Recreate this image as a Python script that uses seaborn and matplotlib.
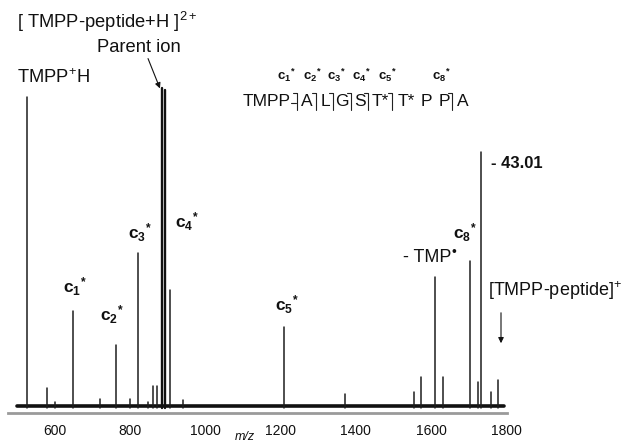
import numpy as np
import pandas as pd
import matplotlib
matplotlib.use("Agg")
import matplotlib.pyplot as plt
from matplotlib.lines import Line2D
import seaborn as sns

# ---- data ----
peak_mz = [525, 579, 600, 648, 719, 762, 799, 820, 847, 860, 871, 905,
           940, 1208, 1372, 1556, 1572, 1611, 1631, 1704, 1726, 1734,
           1760, 1777]
peak_int = [97.2, 6.3, 1.9, 30.3, 2.8, 19.7, 2.8, 48.4, 1.9, 6.9, 6.9,
            36.9, 2.5, 25.3, 4.4, 5.0, 9.7, 40.9, 9.7, 45.9, 8.1, 80.0,
            5.0, 8.8]
parent_mz = [884, 892]
parent_int = [100.0, 99.5]
baseline_mz = [500, 1795]
baseline_int = [0.6, 0.6]
tick_values = [600, 800, 1000, 1200, 1400, 1600, 1800]
tick_labels = ["600", "800", "1000", "1200", "1400", "1600", "1800"]

sns.set_theme(style="white")
plt.rcParams["font.family"] = ["Liberation Sans", "DejaVu Sans"]
plt.rcParams["mathtext.fontset"] = "custom"
plt.rcParams["mathtext.rm"] = "Liberation Sans"
plt.rcParams["mathtext.bf"] = "Liberation Sans:bold"
plt.rcParams["mathtext.it"] = "Liberation Sans:italic"

W, H = 630, 445
fig = plt.figure(figsize=(W / 100, H / 100), dpi=100)
ax = fig.add_axes([8 / W, (H - 413) / H, (507 - 8) / W, (413 - 20) / H])


def stick_table(mzs, ints):
    rows = []
    for i, (m, v) in enumerate(zip(mzs, ints)):
        rows.append({"mz": m, "intensity": 0.0, "peak": i})
        rows.append({"mz": m, "intensity": v, "peak": i})
    return pd.DataFrame(rows)


sticks = stick_table(peak_mz, peak_int)
parents = stick_table(parent_mz, parent_int)
base = pd.DataFrame({"mz": baseline_mz, "intensity": baseline_int})

sns.lineplot(data=base, x="mz", y="intensity", color="#111111",
             linewidth=2.6, ax=ax)
sns.lineplot(data=sticks, x="mz", y="intensity", units="peak",
             estimator=None, sort=False, color="#1e1e1e", linewidth=1.1,
             ax=ax)
sns.lineplot(data=parents, x="mz", y="intensity", units="peak",
             estimator=None, sort=False, color="#111111", linewidth=1.7,
             ax=ax)

ax.set_xlim(475, 1802)
ax.set_ylim(-1.56, 121.25)
ax.set_xticks(tick_values)
ax.set_xticklabels(tick_labels)
ax.set_yticks([])
ax.set_xlabel("")
ax.set_ylabel("")
for s in ["top", "right", "left"]:
    ax.spines[s].set_visible(False)
ax.spines["bottom"].set_color("#9a9a9a")
ax.spines["bottom"].set_linewidth(2)
ax.tick_params(axis="x", direction="out", length=3, width=1,
               color="#777777", labelsize=10, pad=5, labelcolor="#111111")


def P(x, y):
    return (x / W, 1 - y / H)


def txt(x, y, s, size, weight="normal", ha="left", style="normal"):
    fig.text(*P(x, y), s, fontsize=size, fontweight=weight, ha=ha,
             va="center", color="#111111", style=style)


# axis label
txt(245, 437, "m/z", 9, ha="center", style="italic")

# top-left annotations
txt(17, 22, r"[ TMPP-peptide+H ]$^{2+}$", 13.2)
txt(97, 47, "Parent ion", 13.2)
txt(17, 78, r"TMPP$^{+}$H", 13.2)
ax.annotate("", xy=P(161, 91), xytext=P(147, 56),
            xycoords="figure fraction", textcoords="figure fraction",
            arrowprops=dict(arrowstyle="-|>", lw=0.8, color="#111111",
                            mutation_scale=8))

# fragment labels on peaks
frag = [(63, 287, "1"), (100, 315, "2"), (128, 233, "3"), (175, 222, "4"),
        (275, 305, "5"), (453, 233, "8")]
for x, y, n in frag:
    txt(x, y, r"$\mathbf{c_{%s}}^{\mathbf{*}}$" % n, 12.5)

txt(403, 257, "- TMP", 13)
txt(452, 252, "\u2022", 10)
txt(491, 163, "- 43.01", 12, weight="bold")
txt(488, 291, r"[TMPP-peptide]$^{+}$", 13)
ax.annotate("", xy=P(501, 346), xytext=P(501, 310),
            xycoords="figure fraction", textcoords="figure fraction",
            arrowprops=dict(arrowstyle="-|>", lw=0.8, color="#111111",
                            mutation_scale=8))

# peptide sequence with cleavage marks
seq = [(267, "TMPP"), (307, "A"), (325, "L"), (342, "G"), (360, "S"),
       (380, "T*"), (406, "T*"), (426, "P"), (444, "P"), (463, "A")]
for x, s in seq:
    txt(x, 102, s, 12.5, ha="center")
marks = [297, 316, 333, 351, 368, 392, 452]
for mx in marks:
    fig.add_artist(Line2D([mx / W, mx / W, (mx - 4) / W],
                          [1 - 110 / H, 1 - 93 / H, 1 - 93 / H],
                          transform=fig.transFigure, color="#222222",
                          lw=0.8))
fig.add_artist(Line2D([291 / W, 296 / W], [1 - 103 / H, 1 - 103 / H],
                      transform=fig.transFigure, color="#222222", lw=0.8))

seq_labels = [(277, "1"), (303, "2"), (327, "3"), (352, "4"), (378, "5"),
              (432, "8")]
for x, n in seq_labels:
    txt(x, 75, r"$\mathbf{c_{%s}}^{\mathbf{*}}$" % n, 9.5)

fig.savefig("out.png", dpi=100, facecolor="white")
